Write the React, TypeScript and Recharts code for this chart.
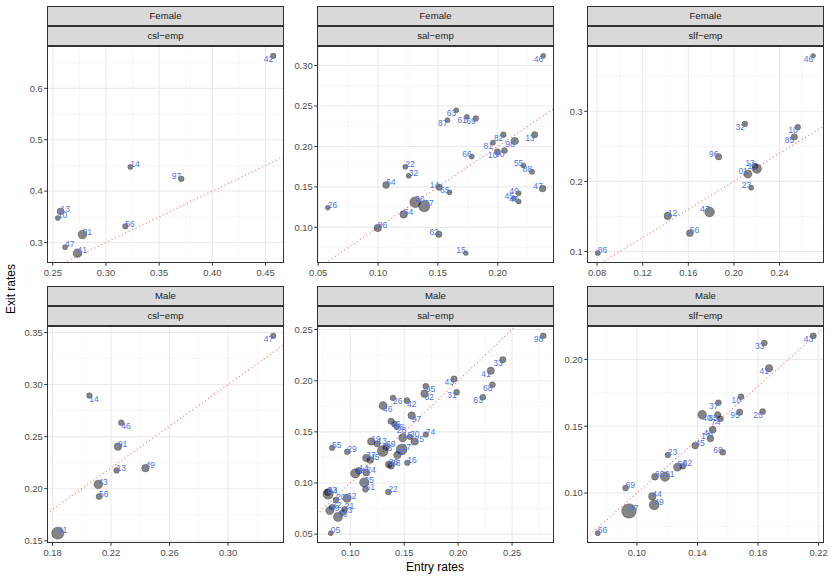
import React from "react";
import { ScatterChart, Scatter, XAxis, YAxis, ZAxis, CartesianGrid, ReferenceLine } from "recharts";

// Entry vs exit rates by region, faceted gender x flow. n = relative weight (point area).
type Pt = { id: string; entry: number; exit: number; n: number };

const femaleCsl: Pt[] = [
  { id: "42", entry: 0.4572, exit: 0.6632, n: 0.8 },
  { id: "14", entry: 0.3229, exit: 0.4471, n: 0.5 },
  { id: "97", entry: 0.3708, exit: 0.4239, n: 0.8 },
  { id: "13", entry: 0.2572, exit: 0.3606, n: 1.5 },
  { id: "10", entry: 0.2547, exit: 0.3477, n: 0.5 },
  { id: "91", entry: 0.2779, exit: 0.3155, n: 3 },
  { id: "47", entry: 0.2616, exit: 0.291, n: 0.5 },
  { id: "41", entry: 0.2732, exit: 0.2794, n: 3 },
  { id: "56", entry: 0.3182, exit: 0.3316, n: 0.8 },
];

const femaleSal: Pt[] = [
  { id: "46", entry: 0.238, exit: 0.312, n: 0.5 },
  { id: "63", entry: 0.1653, exit: 0.2448, n: 0.5 },
  { id: "87", entry: 0.158, exit: 0.2325, n: 0.5 },
  { id: "61", entry: 0.1742, exit: 0.2366, n: 0.5 },
  { id: "69", entry: 0.1817, exit: 0.2346, n: 0.8 },
  { id: "82", entry: 0.2047, exit: 0.2145, n: 0.8 },
  { id: "81", entry: 0.196, exit: 0.2047, n: 0.5 },
  { id: "98", entry: 0.2142, exit: 0.2067, n: 2 },
  { id: "13", entry: 0.2308, exit: 0.2145, n: 1.2 },
  { id: "10", entry: 0.1997, exit: 0.1933, n: 1.2 },
  { id: "90", entry: 0.2056, exit: 0.1949, n: 1 },
  { id: "66", entry: 0.1783, exit: 0.1875, n: 0.5 },
  { id: "55", entry: 0.2214, exit: 0.1765, n: 0.5 },
  { id: "88", entry: 0.2286, exit: 0.1687, n: 0.6 },
  { id: "22", entry: 0.1228, exit: 0.1748, n: 0.5 },
  { id: "32", entry: 0.1256, exit: 0.1638, n: 0.5 },
  { id: "64", entry: 0.1067, exit: 0.1523, n: 1.5 },
  { id: "14", entry: 0.1511, exit: 0.1495, n: 1.2 },
  { id: "65", entry: 0.1597, exit: 0.1433, n: 0.5 },
  { id: "47", entry: 0.2375, exit: 0.1479, n: 1.5 },
  { id: "49", entry: 0.2175, exit: 0.1421, n: 0.5 },
  { id: "45", entry: 0.2136, exit: 0.136, n: 0.5 },
  { id: "40", entry: 0.2175, exit: 0.1319, n: 0.5 },
  { id: "26", entry: 0.058, exit: 0.1241, n: 0.4 },
  { id: "36", entry: 0.1311, exit: 0.1311, n: 5 },
  { id: "37", entry: 0.1386, exit: 0.1262, n: 5.5 },
  { id: "64", entry: 0.1214, exit: 0.116, n: 2 },
  { id: "86", entry: 0.0997, exit: 0.0992, n: 2 },
  { id: "62", entry: 0.1508, exit: 0.0914, n: 1.2 },
  { id: "15", entry: 0.1733, exit: 0.0681, n: 0.4 },
];

const femaleSlf: Pt[] = [
  { id: "46", entry: 0.2695, exit: 0.3791, n: 0.4 },
  { id: "32", entry: 0.2096, exit: 0.282, n: 0.8 },
  { id: "10", entry: 0.256, exit: 0.2773, n: 0.8 },
  { id: "85", entry: 0.2529, exit: 0.2635, n: 1.2 },
  { id: "96", entry: 0.1865, exit: 0.2351, n: 1.2 },
  { id: "13", entry: 0.2183, exit: 0.2218, n: 1 },
  { id: "15", entry: 0.2201, exit: 0.218, n: 3.5 },
  { id: "01", entry: 0.2122, exit: 0.2104, n: 2.5 },
  { id: "23", entry: 0.2151, exit: 0.191, n: 0.5 },
  { id: "47", entry: 0.1786, exit: 0.1564, n: 4 },
  { id: "12", entry: 0.142, exit: 0.1507, n: 2 },
  { id: "56", entry: 0.1613, exit: 0.1261, n: 1.5 },
  { id: "86", entry: 0.0806, exit: 0.0976, n: 0.5 },
];

const maleCsl: Pt[] = [
  { id: "47", entry: 0.3309, exit: 0.3468, n: 0.8 },
  { id: "14", entry: 0.2052, exit: 0.2895, n: 0.8 },
  { id: "46", entry: 0.227, exit: 0.2634, n: 0.8 },
  { id: "91", entry: 0.2247, exit: 0.2404, n: 2 },
  { id: "13", entry: 0.2238, exit: 0.2175, n: 0.8 },
  { id: "49", entry: 0.2435, exit: 0.2197, n: 2 },
  { id: "43", entry: 0.2113, exit: 0.2041, n: 3 },
  { id: "56", entry: 0.2118, exit: 0.1924, n: 1 },
  { id: "41", entry: 0.1836, exit: 0.1573, n: 6.5 },
];

const maleSal: Pt[] = [
  { id: "98", entry: 0.2789, exit: 0.2438, n: 1 },
  { id: "33", entry: 0.2414, exit: 0.2205, n: 1.2 },
  { id: "41", entry: 0.2303, exit: 0.2097, n: 1.8 },
  { id: "68", entry: 0.2318, exit: 0.1961, n: 1 },
  { id: "63", entry: 0.2229, exit: 0.1838, n: 1 },
  { id: "43", entry: 0.1962, exit: 0.2016, n: 1.2 },
  { id: "31", entry: 0.1986, exit: 0.1886, n: 1 },
  { id: "95", entry: 0.17, exit: 0.1945, n: 1 },
  { id: "82", entry: 0.1688, exit: 0.1873, n: 2 },
  { id: "26", entry: 0.1396, exit: 0.1831, n: 0.8 },
  { id: "42", entry: 0.1525, exit: 0.1805, n: 1 },
  { id: "46", entry: 0.1304, exit: 0.1756, n: 2.5 },
  { id: "97", entry: 0.1569, exit: 0.1659, n: 2 },
  { id: "56", entry: 0.1378, exit: 0.1604, n: 1.2 },
  { id: "58", entry: 0.1409, exit: 0.1581, n: 0.8 },
  { id: "28", entry: 0.143, exit: 0.1549, n: 0.8 },
  { id: "15", entry: 0.1486, exit: 0.1442, n: 2.5 },
  { id: "30", entry: 0.1553, exit: 0.1451, n: 0.8 },
  { id: "74", entry: 0.17, exit: 0.1474, n: 0.8 },
  { id: "25", entry: 0.1596, exit: 0.1406, n: 2 },
  { id: "19", entry: 0.1194, exit: 0.1406, n: 2 },
  { id: "13", entry: 0.1249, exit: 0.1383, n: 1.2 },
  { id: "69", entry: 0.1332, exit: 0.1351, n: 1.5 },
  { id: "73", entry: 0.1301, exit: 0.1312, n: 5 },
  { id: "55", entry: 0.0831, exit: 0.1344, n: 0.8 },
  { id: "29", entry: 0.0972, exit: 0.1305, n: 1 },
  { id: "27", entry: 0.1476, exit: 0.1328, n: 5 },
  { id: "57", entry: 0.1436, exit: 0.1273, n: 2 },
  { id: "86", entry: 0.1356, exit: 0.1182, n: 1.5 },
  { id: "88", entry: 0.1378, exit: 0.1169, n: 1.5 },
  { id: "16", entry: 0.1529, exit: 0.1198, n: 0.8 },
  { id: "37", entry: 0.1148, exit: 0.1244, n: 2 },
  { id: "45", entry: 0.1184, exit: 0.1224, n: 1.5 },
  { id: "14", entry: 0.108, exit: 0.112, n: 1.5 },
  { id: "44", entry: 0.1046, exit: 0.1094, n: 3.5 },
  { id: "24", entry: 0.1148, exit: 0.1101, n: 1.5 },
  { id: "35", entry: 0.1129, exit: 0.1006, n: 3.5 },
  { id: "61", entry: 0.1141, exit: 0.0938, n: 1 },
  { id: "22", entry: 0.1353, exit: 0.0912, n: 1 },
  { id: "53", entry: 0.0791, exit: 0.0909, n: 1.5 },
  { id: "84", entry: 0.0794, exit: 0.0893, n: 4.5 },
  { id: "62", entry: 0.0969, exit: 0.0851, n: 2.5 },
  { id: "20", entry: 0.0868, exit: 0.0834, n: 1 },
  { id: "21", entry: 0.0948, exit: 0.0744, n: 1 },
  { id: "32", entry: 0.0831, exit: 0.0763, n: 1 },
  { id: "49", entry: 0.0809, exit: 0.073, n: 2.5 },
  { id: "23", entry: 0.0932, exit: 0.0711, n: 1 },
  { id: "93", entry: 0.0886, exit: 0.0669, n: 3.5 },
  { id: "05", entry: 0.0819, exit: 0.051, n: 0.5 },
];

const maleSlf: Pt[] = [
  { id: "43", entry: 0.2165, exit: 0.2176, n: 1.2 },
  { id: "33", entry: 0.1842, exit: 0.2122, n: 1 },
  { id: "41", entry: 0.1873, exit: 0.1933, n: 2 },
  { id: "10", entry: 0.1688, exit: 0.172, n: 1 },
  { id: "37", entry: 0.1538, exit: 0.1675, n: 1 },
  { id: "95", entry: 0.1679, exit: 0.1605, n: 1.2 },
  { id: "25", entry: 0.1831, exit: 0.161, n: 1 },
  { id: "40", entry: 0.1431, exit: 0.1586, n: 3 },
  { id: "85", entry: 0.1534, exit: 0.1586, n: 1.2 },
  { id: "74", entry: 0.1552, exit: 0.1556, n: 1 },
  { id: "46", entry: 0.1501, exit: 0.1474, n: 1.5 },
  { id: "17", entry: 0.1486, exit: 0.1409, n: 1.5 },
  { id: "45", entry: 0.1385, exit: 0.1355, n: 1.5 },
  { id: "68", entry: 0.1567, exit: 0.1305, n: 1 },
  { id: "23", entry: 0.1204, exit: 0.1285, n: 0.8 },
  { id: "56", entry: 0.1268, exit: 0.1194, n: 2.5 },
  { id: "62", entry: 0.1303, exit: 0.1201, n: 1 },
  { id: "60", entry: 0.1119, exit: 0.1122, n: 1.5 },
  { id: "91", entry: 0.1185, exit: 0.1122, n: 3.5 },
  { id: "69", entry: 0.0925, exit: 0.1037, n: 1 },
  { id: "44", entry: 0.1101, exit: 0.0975, n: 2 },
  { id: "49", entry: 0.1114, exit: 0.0911, n: 4 },
  { id: "47", entry: 0.0947, exit: 0.0866, n: 9.5 },
  { id: "66", entry: 0.0741, exit: 0.07, n: 0.5 },
];

const femaleCslTicksX = [0.25, 0.3, 0.35, 0.4, 0.45];
const femaleCslTicksY = [0.3, 0.4, 0.5, 0.6];
const femaleSalTicksX = [0.05, 0.1, 0.15, 0.2];
const femaleSalTicksY = [0.1, 0.15, 0.2, 0.25, 0.3];
const femaleSlfTicksX = [0.08, 0.12, 0.16, 0.2, 0.24];
const femaleSlfTicksY = [0.1, 0.2, 0.3];
const maleCslTicksX = [0.18, 0.22, 0.26, 0.3];
const maleCslTicksY = [0.15, 0.2, 0.25, 0.3, 0.35];
const maleSalTicksX = [0.1, 0.15, 0.2, 0.25];
const maleSalTicksY = [0.05, 0.1, 0.15, 0.2, 0.25];
const maleSlfTicksX = [0.1, 0.14, 0.18, 0.22];
const maleSlfTicksY = [0.1, 0.15, 0.2];

const FONT = "'Liberation Sans', Arial, Helvetica, sans-serif";
const PW = 237;
const PH = 217;
const YW = 40;
const XH = 22;
const RM = 16;
const TM = 8;
const COLS = [47, 317, 587];
const ROWS = [46, 326];

type PanelCfg = {
  gender: string;
  flow: string;
  data: Pt[];
  xTicks: number[];
  yTicks: number[];
  xDigits: number;
  yDigits: number;
  col: number;
  row: number;
};

const panels: PanelCfg[] = [
  { gender: "Female", flow: "csl\u2212emp", data: femaleCsl, xTicks: femaleCslTicksX, yTicks: femaleCslTicksY, xDigits: 2, yDigits: 1, col: 0, row: 0 },
  { gender: "Female", flow: "sal\u2212emp", data: femaleSal, xTicks: femaleSalTicksX, yTicks: femaleSalTicksY, xDigits: 2, yDigits: 2, col: 1, row: 0 },
  { gender: "Female", flow: "slf\u2212emp", data: femaleSlf, xTicks: femaleSlfTicksX, yTicks: femaleSlfTicksY, xDigits: 2, yDigits: 1, col: 2, row: 0 },
  { gender: "Male", flow: "csl\u2212emp", data: maleCsl, xTicks: maleCslTicksX, yTicks: maleCslTicksY, xDigits: 2, yDigits: 2, col: 0, row: 1 },
  { gender: "Male", flow: "sal\u2212emp", data: maleSal, xTicks: maleSalTicksX, yTicks: maleSalTicksY, xDigits: 2, yDigits: 2, col: 1, row: 1 },
  { gender: "Male", flow: "slf\u2212emp", data: maleSlf, xTicks: maleSlfTicksX, yTicks: maleSlfTicksY, xDigits: 2, yDigits: 2, col: 2, row: 1 },
];

// ggplot-style 5% expansion of the data range
function expand(vals: number[]): [number, number] {
  const lo = Math.min(...vals);
  const hi = Math.max(...vals);
  const pad = (hi - lo) * 0.05;
  return [lo - pad, hi + pad];
}

function minorBreaks(ticks: number[], [lo, hi]: [number, number]) {
  const step = ticks[1] - ticks[0];
  const out: number[] = [];
  for (let v = ticks[0] - step / 2 - step * 3; v <= hi; v += step) {
    if (v >= lo) out.push(v);
  }
  return out;
}

const dotShape = (p: any) => {
  const r = p.size ? Math.sqrt(p.size / Math.PI) : (p.width ?? 6) / 2;
  return <circle cx={p.cx} cy={p.cy} r={r} fill="#000" fillOpacity={0.48} stroke="#000" strokeOpacity={0.3} strokeWidth={0.7} />;
};

// labels pushed "inward" like ggplot hjust/vjust = "inward"
const labelShape = (xMid: number, yMid: number) => (p: any) => {
  const right = p.payload.entry > xMid;
  const below = p.payload.exit > yMid;
  return (
    <text
      x={p.cx}
      y={below ? p.cy + 6 : p.cy + 0.3}
      textAnchor={right ? "end" : "start"}
      fontSize={8.5}
      fontFamily={FONT}
      fill="#4F74E6"
    >
      {p.payload.id}
    </text>
  );
};

const stripStyle: React.CSSProperties = {
  position: "absolute",
  width: PW,
  height: 20,
  boxSizing: "border-box",
  border: "1px solid #333333",
  background: "#D9D9D9",
  color: "#1A1A1A",
  fontSize: 9.6,
  lineHeight: "18px",
  textAlign: "center",
  fontFamily: FONT,
};

function Panel({ cfg }: { cfg: PanelCfg }) {
  const left = COLS[cfg.col];
  const top = ROWS[cfg.row];
  const xd = expand(cfg.data.map((d) => d.entry));
  const yd = expand(cfg.data.map((d) => d.exit));
  const a = Math.max(xd[0], yd[0]);
  const b = Math.min(xd[1], yd[1]);
  const tickStyle = { fill: "#4D4D4D", fontSize: 9.4, fontFamily: FONT };
  return (
    <>
      <div style={{ ...stripStyle, left, top: top - 40 }}>{cfg.gender}</div>
      <div style={{ ...stripStyle, left, top: top - 20 }}>{cfg.flow}</div>
      <div style={{ position: "absolute", left: left - YW, top: top - TM }}>
        <ScatterChart width={YW + PW + RM} height={TM + PH + XH} margin={{ top: TM, right: RM, bottom: 0, left: 0 }}>
          <CartesianGrid
            verticalValues={minorBreaks(cfg.xTicks, xd)}
            horizontalValues={minorBreaks(cfg.yTicks, yd)}
            stroke="#F2F2F2"
            strokeWidth={0.6}
          />
          <CartesianGrid verticalValues={cfg.xTicks} horizontalValues={cfg.yTicks} stroke="#EBEBEB" strokeWidth={1.1} />
          <XAxis
            type="number"
            dataKey="entry"
            domain={xd}
            ticks={cfg.xTicks}
            interval={0}
            allowDataOverflow
            height={XH}
            tickSize={2.75}
            tickMargin={4}
            axisLine={false}
            tickLine={{ stroke: "#333333" }}
            tick={tickStyle}
            tickFormatter={(v: number) => v.toFixed(cfg.xDigits)}
          />
          <YAxis
            type="number"
            dataKey="exit"
            domain={yd}
            ticks={cfg.yTicks}
            interval={0}
            allowDataOverflow
            width={YW}
            tickSize={2.75}
            tickMargin={1.5}
            axisLine={false}
            tickLine={{ stroke: "#333333" }}
            tick={tickStyle}
            tickFormatter={(v: number) => v.toFixed(cfg.yDigits)}
          />
          <ZAxis type="number" dataKey="n" domain={[0, 10]} range={[12.6, 176.7]} />
          <Scatter data={cfg.data} shape={dotShape} isAnimationActive={false} />
          <Scatter data={cfg.data} shape={labelShape((xd[0] + xd[1]) / 2, (yd[0] + yd[1]) / 2)} isAnimationActive={false} />
          <ReferenceLine
            segment={[{ x: a, y: a }, { x: b, y: b }]}
            stroke="#F8766D"
            strokeWidth={1.1}
            strokeDasharray="1.1 2.7"
            ifOverflow="visible"
          />
        </ScatterChart>
      </div>
      <div
        style={{
          position: "absolute",
          left,
          top,
          width: PW,
          height: PH,
          boxSizing: "border-box",
          border: "1px solid #333333",
          pointerEvents: "none",
        }}
      />
    </>
  );
}

export default function App() {
  return (
    <div style={{ position: "absolute", left: 0, top: 0, width: 830, height: 581, background: "#fff", fontFamily: FONT }}>
      {panels.map((p) => (
        <Panel key={p.gender + p.flow} cfg={p} />
      ))}
      <div
        style={{
          position: "absolute",
          left: 435 - 60,
          top: 560,
          width: 120,
          textAlign: "center",
          fontSize: 12,
          lineHeight: "14px",
          color: "#000",
        }}
      >
        Entry rates
      </div>
      <div
        style={{
          position: "absolute",
          left: 11 - 50,
          top: 289 - 7,
          width: 100,
          height: 14,
          textAlign: "center",
          fontSize: 12,
          lineHeight: "14px",
          color: "#000",
          transform: "rotate(-90deg)",
        }}
      >
        Exit rates
      </div>
    </div>
  );
}
